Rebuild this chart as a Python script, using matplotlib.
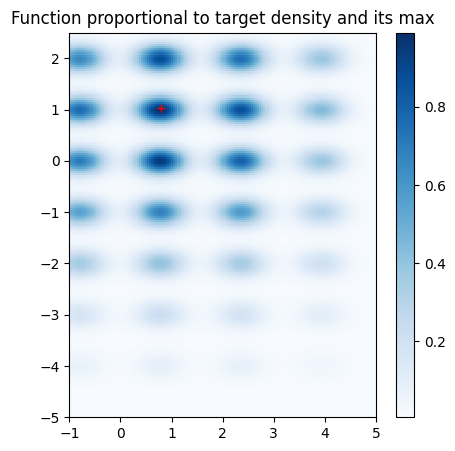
import numpy as np
import matplotlib.pyplot as plt

# blob centres
peak_x = [-0.785, 0.785, 2.356, 3.927]
peak_y = [2, 1, 0, -1, -2, -3, -4]

# peak heights, one row per peak_y, one column per peak_x
heights = np.array([
    [0.65, 0.88, 0.75, 0.38],
    [0.76, 0.99, 0.87, 0.44],
    [0.70, 0.95, 0.80, 0.38],
    [0.55, 0.68, 0.58, 0.30],
    [0.35, 0.40, 0.35, 0.20],
    [0.17, 0.22, 0.18, 0.10],
    [0.07, 0.09, 0.08, 0.04],
])
floor = 0.006

max_x, max_y = 0.79, 1.03

# spread of each blob
sx, sy = 0.34, 0.19

xs = np.arange(-1, 5, 0.04) + 0.02
ys = np.arange(-5, 2.5, 0.04) + 0.02
X, Y = np.meshgrid(xs, ys)
Z = np.full_like(X, floor)
for i, cy in enumerate(peak_y):
    for j, cx in enumerate(peak_x):
        Z += heights[i, j] * np.exp(-(X - cx)**2 / (2 * sx**2) - (Y - cy)**2 / (2 * sy**2))
Z = Z * heights.max() / Z.max()

fig = plt.figure(figsize=(4.56, 4.51), dpi=100)
ax = fig.add_axes([0.152, 0.0747, 0.6726, 0.8528])
cax = fig.add_axes([0.8678, 0.0747, 0.0408, 0.8528])

im = ax.imshow(Z, origin="lower", extent=[-1, 5, -5, 2.5], cmap="Blues",
               interpolation="nearest", aspect="auto")
ax.plot(max_x, max_y, "r+")
ax.set_xlim(-1, 5)
ax.set_ylim(-5, 2.5)
ax.set_title("Function proportional to target density and its max")
fig.colorbar(im, cax=cax)

fig.savefig("out.png", dpi=100)
